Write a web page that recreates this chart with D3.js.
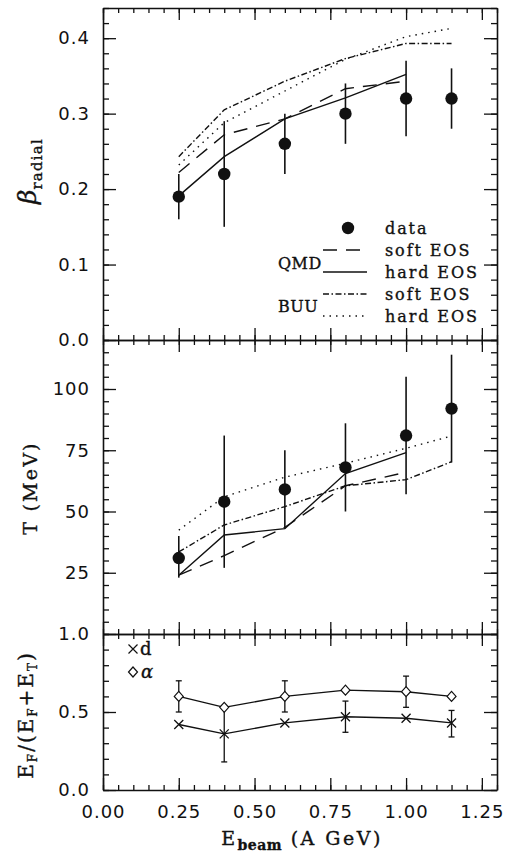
<!DOCTYPE html>
<html>
<head>
<meta charset="utf-8">
<script src="https://cdn.jsdelivr.net/npm/d3@7"></script>
<style>
body {margin:0; background:#fff;}
svg {display:block;}
.tick text {font-family:"DejaVu Sans"; font-size:18px; letter-spacing:1px; fill:#111;}
.serif {font-family:"DejaVu Serif"; fill:#111; stroke:#111; stroke-width:0.35px;}
</style>
</head>
<body>
<div id="plot"></div>
<script>
/* values */
var energy = [0.25, 0.4, 0.6, 0.8, 1.0, 1.15];
var energyQMD = [0.25, 0.4, 0.6, 0.8, 1.0];

var betaData = [0.19, 0.22, 0.26, 0.30, 0.32, 0.32];
var betaLo = [0.16, 0.15, 0.22, 0.26, 0.27, 0.28];
var betaHi = [0.22, 0.29, 0.30, 0.34, 0.37, 0.36];
var betaQmdSoft = [0.222, 0.272, 0.293, 0.333, 0.343];
var betaQmdHard = [0.191, 0.243, 0.293, 0.321, 0.352];
var betaBuuSoft = [0.243, 0.305, 0.343, 0.373, 0.393, 0.393];
var betaBuuHard = [0.232, 0.288, 0.330, 0.372, 0.402, 0.413];

var tData = [31, 54, 59, 68, 81, 92];
var tLo = [23, 27, 43, 50, 57, 70];
var tHi = [40, 81, 75, 86, 105, 114];
var tQmdSoft = [24, 32, 43.5, 60.5, 66];
var tQmdHard = [24, 40.4, 43, 65.5, 74];
var tBuuSoft = [33.5, 44.5, 52, 60.5, 63, 70.3];
var tBuuHard = [42.4, 56, 64, 69.7, 75.8, 80.8];

var ratioAlpha = [0.60, 0.53, 0.60, 0.64, 0.63, 0.60];
var ratioAlphaLo = [0.50, null, 0.50, null, 0.53, null];
var ratioAlphaHi = [0.70, null, 0.70, null, 0.73, null];
var ratioDeut = [0.42, 0.36, 0.43, 0.47, 0.46, 0.43];
var ratioDeutLo = [null, 0.18, null, 0.37, null, 0.34];
var ratioDeutHi = [null, 0.53, null, 0.57, null, 0.51];

var eTicks = [0, 0.25, 0.5, 0.75, 1.0, 1.25];
var betaTicks = [0, 0.1, 0.2, 0.3, 0.4];
var tTicks = [25, 50, 75, 100];
var ratioTicks = [0, 0.5, 1.0];

var legendLabels = ['data', 'soft EOS', 'hard EOS', 'soft EOS', 'hard EOS'];
var legendGroups = ['QMD', 'BUU'];

/* canvas */
var width = 506, height = 856;
var left = 103, right = 497;

var svg = d3.select('#plot')
	.append('svg')
	.attr('width', width)
	.attr('height', height);

var x = d3.scaleLinear().domain([0, 1.3]).range([left, right]);
var yBeta = d3.scaleLinear().domain([0, 0.44]).range([340, 8]);
var yT = d3.scaleLinear().domain([0, 120]).range([634, 340]);
var yRatio = d3.scaleLinear().domain([0, 1]).range([790, 634]);

var xMinor = d3.range(0, 1.3001, 0.05).map(function (v) {return +v.toFixed(2);});

function minorOf(step, top) {
	return d3.range(0, top + 1e-6, step).map(function (v) {return +v.toFixed(3);});
}

function frame(y, yMajor, yMinorStep, yFmt, xLabels) {
	var y0 = y.range()[0], y1 = y.range()[1];
	var yTop = y.domain()[1];

	// left, with labels
	svg.append('g')
		.attr('transform', 'translate(' + left + ',0)')
		.call(d3.axisLeft(y).tickValues(yMajor).tickFormat(yFmt)
			.tickSizeInner(-13).tickSizeOuter(0).tickPadding(13));
	svg.append('g')
		.attr('transform', 'translate(' + left + ',0)')
		.call(d3.axisLeft(y).tickValues(minorOf(yMinorStep, yTop)).tickFormat('')
			.tickSizeInner(-6).tickSizeOuter(0))
		.select('.domain').remove();

	// right
	svg.append('g')
		.attr('transform', 'translate(' + right + ',0)')
		.call(d3.axisRight(y).tickValues(yMajor).tickFormat('')
			.tickSizeInner(-13).tickSizeOuter(0));
	svg.append('g')
		.attr('transform', 'translate(' + right + ',0)')
		.call(d3.axisRight(y).tickValues(minorOf(yMinorStep, yTop)).tickFormat('')
			.tickSizeInner(-6).tickSizeOuter(0))
		.select('.domain').remove();

	// top
	svg.append('g')
		.attr('transform', 'translate(0,' + y1 + ')')
		.call(d3.axisTop(x).tickValues(eTicks).tickFormat('')
			.tickSizeInner(-12).tickSizeOuter(0));
	svg.append('g')
		.attr('transform', 'translate(0,' + y1 + ')')
		.call(d3.axisTop(x).tickValues(xMinor).tickFormat('')
			.tickSizeInner(-5).tickSizeOuter(0))
		.select('.domain').remove();

	// bottom
	svg.append('g')
		.attr('transform', 'translate(0,' + y0 + ')')
		.call(d3.axisBottom(x).tickValues(eTicks)
			.tickFormat(xLabels ? d3.format('.2f') : '')
			.tickSizeInner(-12).tickSizeOuter(0).tickPadding(15));
	svg.append('g')
		.attr('transform', 'translate(0,' + y0 + ')')
		.call(d3.axisBottom(x).tickValues(xMinor).tickFormat('')
			.tickSizeInner(-5).tickSizeOuter(0))
		.select('.domain').remove();
}

frame(yBeta, betaTicks, 0.02, d3.format('.1f'), false);
frame(yT, tTicks, 5, d3.format('d'), false);
frame(yRatio, ratioTicks, 0.1, d3.format('.1f'), true);

svg.selectAll('.domain').attr('stroke-width', 1.6).attr('stroke', '#111');
svg.selectAll('.tick line').attr('stroke-width', 1.3).attr('stroke', '#111');

/* curves */
function curve(xs, ys, y, dash) {
	var line = d3.line()
		.x(function (d) {return x(d[0]);})
		.y(function (d) {return y(d[1]);});
	svg.append('path')
		.datum(d3.zip(xs, ys))
		.attr('d', line)
		.attr('fill', 'none')
		.attr('stroke', '#111')
		.attr('stroke-width', 1.4)
		.attr('stroke-dasharray', dash);
}

var dashSoftQMD = '14,9';
var dashSoftBUU = '6,2.5,1.5,2.5';
var dashHardBUU = '1.5,5';

curve(energyQMD, betaQmdSoft, yBeta, dashSoftQMD);
curve(energyQMD, betaQmdHard, yBeta, null);
curve(energy, betaBuuSoft, yBeta, dashSoftBUU);
curve(energy, betaBuuHard, yBeta, dashHardBUU);

curve(energyQMD, tQmdSoft, yT, dashSoftQMD);
curve(energyQMD, tQmdHard, yT, null);
curve(energy, tBuuSoft, yT, dashSoftBUU);
curve(energy, tBuuHard, yT, dashHardBUU);

/* data with error bars */
function points(vals, lo, hi, y) {
	var rows = energy.map(function (e, i) {return {e: e, v: vals[i], lo: lo[i], hi: hi[i]};});
	svg.selectAll(null).data(rows).enter()
		.append('line')
		.attr('x1', function (d) {return x(d.e);})
		.attr('x2', function (d) {return x(d.e);})
		.attr('y1', function (d) {return y(d.lo);})
		.attr('y2', function (d) {return y(d.hi);})
		.attr('stroke', '#111')
		.attr('stroke-width', 1.6);
	svg.selectAll(null).data(rows).enter()
		.append('circle')
		.attr('cx', function (d) {return x(d.e);})
		.attr('cy', function (d) {return y(d.v);})
		.attr('r', 6.2)
		.style('fill', '#111');
}

points(betaData, betaLo, betaHi, yBeta);
points(tData, tLo, tHi, yT);

/* bottom panel */
curve(energy, ratioAlpha, yRatio, null);
curve(energy, ratioDeut, yRatio, null);

function ratioBars(lo, hi) {
	var rows = energy.map(function (e, i) {return {e: e, lo: lo[i], hi: hi[i]};})
		.filter(function (d) {return d.lo != null;});
	var g = svg.selectAll(null).data(rows).enter().append('g')
		.attr('stroke', '#111').attr('stroke-width', 1.3);
	g.append('line')
		.attr('x1', function (d) {return x(d.e);})
		.attr('x2', function (d) {return x(d.e);})
		.attr('y1', function (d) {return yRatio(d.lo);})
		.attr('y2', function (d) {return yRatio(d.hi);});
	g.append('line')
		.attr('x1', function (d) {return x(d.e) - 3;})
		.attr('x2', function (d) {return x(d.e) + 3;})
		.attr('y1', function (d) {return yRatio(d.lo);})
		.attr('y2', function (d) {return yRatio(d.lo);});
	g.append('line')
		.attr('x1', function (d) {return x(d.e) - 3;})
		.attr('x2', function (d) {return x(d.e) + 3;})
		.attr('y1', function (d) {return yRatio(d.hi);})
		.attr('y2', function (d) {return yRatio(d.hi);});
}
ratioBars(ratioAlphaLo, ratioAlphaHi);
ratioBars(ratioDeutLo, ratioDeutHi);

var diamond = 'M0,-5L4.5,0L0,5L-4.5,0Z';
var cross = 'M-4.5,-4.5L4.5,4.5M-4.5,4.5L4.5,-4.5';

svg.selectAll(null).data(energy).enter()
	.append('path')
	.attr('d', diamond)
	.attr('transform', function (d, i) {return 'translate(' + x(d) + ',' + yRatio(ratioAlpha[i]) + ')';})
	.attr('fill', '#fff').attr('stroke', '#111').attr('stroke-width', 1.2);
svg.selectAll(null).data(energy).enter()
	.append('path')
	.attr('d', cross)
	.attr('transform', function (d, i) {return 'translate(' + x(d) + ',' + yRatio(ratioDeut[i]) + ')';})
	.attr('fill', 'none').attr('stroke', '#111').attr('stroke-width', 1.3);

/* legends */
var legY = [228, 250, 272, 294, 316];
var legDash = [null, dashSoftQMD, null, dashSoftBUU, dashHardBUU];

legendLabels.forEach(function (lab, i) {
	svg.append('text')
		.attr('class', 'serif')
		.attr('x', 385).attr('y', legY[i] + 5.5)
		.style('font-size', '16px').style('letter-spacing', '1.9px')
		.text(lab);
	if (i == 0) {
		svg.append('circle').attr('cx', 348).attr('cy', legY[i]).attr('r', 6.2).style('fill', '#111');
	} else {
		svg.append('line')
			.attr('x1', 323).attr('x2', 367)
			.attr('y1', legY[i]).attr('y2', legY[i])
			.attr('stroke', '#111').attr('stroke-width', 1.4)
			.attr('stroke-dasharray', legDash[i]);
	}
});
legendGroups.forEach(function (lab, i) {
	svg.append('text')
		.attr('class', 'serif')
		.attr('x', 278).attr('y', (i == 0 ? 263 : 306) + 5.5)
		.style('font-size', '16px').style('letter-spacing', '0.5px')
		.text(lab);
});

svg.append('path').attr('d', cross).attr('transform', 'translate(133,649)')
	.attr('fill', 'none').attr('stroke', '#111').attr('stroke-width', 1.2);
svg.append('text').attr('class', 'serif').attr('x', 140).attr('y', 655)
	.style('font-size', '18px').text('d');
svg.append('path').attr('d', diamond).attr('transform', 'translate(133,672)')
	.attr('fill', '#fff').attr('stroke', '#111').attr('stroke-width', 1.2);
svg.append('text').attr('class', 'serif').attr('x', 141).attr('y', 678)
	.style('font-size', '18px').style('font-style', 'italic').text('α');

/* axis titles */
var tb = svg.append('text').attr('class', 'serif')
	.attr('transform', 'translate(36,171) rotate(-90)')
	.attr('text-anchor', 'middle');
tb.append('tspan').style('font-size', '25px').style('font-style', 'italic').text('β');
tb.append('tspan').style('font-size', '15px').style('letter-spacing', '1.2px').attr('dy', 6).text('radial');

svg.append('text').attr('class', 'serif')
	.attr('transform', 'translate(37,488) rotate(-90)')
	.attr('text-anchor', 'middle')
	.style('font-size', '19px').style('letter-spacing', '2.2px')
	.text('T (MeV)');

var tr = svg.append('text').attr('class', 'serif')
	.attr('transform', 'translate(33,715) rotate(-90)')
	.attr('text-anchor', 'middle')
	.style('font-size', '20px').style('letter-spacing', '2px');
tr.append('tspan').text('E');
tr.append('tspan').attr('dy', 4).style('font-size', '12px').text('F');
tr.append('tspan').attr('dy', -4).text('/(E');
tr.append('tspan').attr('dy', 4).style('font-size', '12px').text('F');
tr.append('tspan').attr('dy', -4).text('+E');
tr.append('tspan').attr('dy', 4).style('font-size', '12px').text('T');
tr.append('tspan').attr('dy', -4).text(')');

var tx = svg.append('text').attr('class', 'serif')
	.attr('x', 302).attr('y', 845)
	.attr('text-anchor', 'middle')
	.style('font-size', '19px').style('letter-spacing', '2.5px');
tx.append('tspan').text('E');
tx.append('tspan').attr('dy', 5).style('font-size', '14px').style('font-weight', 'bold').style('letter-spacing', '0.5px').text('beam');
tx.append('tspan').attr('dy', -5).text(' (A GeV)');
</script>
</body>
</html>
